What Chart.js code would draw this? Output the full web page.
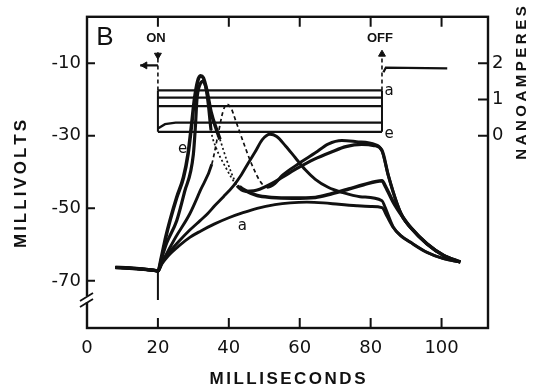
<!DOCTYPE html>
<html>
<head>
<meta charset="utf-8">
<script src="https://cdn.jsdelivr.net/npm/chart.js@4/dist/chart.umd.min.js"></script>
<style>
  html, body { margin: 0; padding: 0; background: #fff; }
  #wrap { width: 533px; height: 391px; }
</style>
</head>
<body>
<div id="wrap"><canvas id="chart"></canvas></div>
<script>
// ticks
const xTicks = [0, 20, 40, 60, 80, 100];
const mvTicks = [-10, -30, -50, -70];
const naTicks = [0, 1, 2];

// stimulus timing (ms)
const onTime = 20;
const offTime = 83.2;

// resting potential before the pulse, [ms, mV]
const baseline = [[8, -66.3], [12, -66.5], [16, -66.8], [19, -67.1], [20, -67.3]];

// voltage responses, [ms, mV]
const traceA = [[21, -65.5], [23, -63], [26, -60.3], [29, -58], [32, -56.3], [36, -54.3], [40, -52.6],
  [44, -51.2], [48, -50], [53, -49], [57.3, -48.5], [62, -48.3], [66.7, -48.5], [71, -48.9], [76.1, -49.3],
  [80, -49.5], [83.2, -49.8], [84.5, -52], [86.4, -55.3], [88.5, -57.6], [91.2, -59.4], [95.9, -62.2],
  [100.6, -63.9], [105.3, -64.8]];
const traceB = [[21, -65], [23, -62.3], [26, -59], [29, -56], [31.9, -53.4], [34, -51.5], [36, -49.3],
  [38.5, -46.8], [41.3, -43.8], [43.5, -40.8], [45.5, -37.5], [47.4, -34.5], [49.5, -31], [51.6, -29.6],
  [53.5, -30.2], [56, -32.8], [58.7, -36], [61.5, -39.3], [64.4, -42], [68, -44.2], [71.9, -45.6],
  [77, -46.8], [83.2, -47.9], [84, -49.5], [86.4, -55.2], [88.5, -57.5], [91.2, -59.3], [95.9, -62.1],
  [100.6, -63.9], [105.3, -64.8]];
const traceC = [[21.5, -64.3], [25, -58], [29, -51.5], [32, -45], [35.2, -37.8], [37, -29.5], [38.3, -23.5],
  [39.4, -21.3], [40.6, -22.3], [42, -26], [44, -31.5], [46.3, -37.5], [48.8, -42.5], [50.7, -44.2],
  [53, -43.2], [55, -41], [60, -37.5], [64.4, -34.7], [68, -32.3], [71.9, -31.3], [76, -31.6],
  [81.3, -32.4], [83.2, -34.2], [85, -41], [87.4, -48.6], [89, -52.3], [91.2, -55.2], [95.9, -59.8],
  [100.6, -63], [105.3, -64.8]];
const traceD = [[21, -64], [22.5, -59.5], [25.3, -53.4], [27.5, -45.5], [30, -35.1], [30.6, -27], [31, -20],
  [31.8, -16], [32.7, -15], [33.6, -17], [34.3, -22], [35, -28.5], [36.5, -33.5], [39, -38.5],
  [42.3, -43.8], [44.6, -45.3], [47, -45.2], [52, -43.2], [55, -41.5], [59.6, -38.8], [64, -36.5],
  [69.1, -34.4], [73, -33], [77.5, -32.4], [81, -32.7], [83.2, -34], [85, -41], [87.4, -48.6],
  [89, -52.3], [91.2, -55.2], [95.9, -59.8], [100.6, -63], [105.3, -64.8]];
const traceE = [[21, -63.5], [22.2, -58], [23.4, -53.4], [25.3, -47], [27.2, -41.5], [28.5, -35], [29.5, -27],
  [30.3, -20], [31.2, -15], [32, -13.5], [32.8, -14], [33.8, -17.5], [35, -23.5], [36.6, -28.5],
  [37.5, -31], [39.5, -37], [41.7, -42.4], [43, -44], [45, -45.3], [48, -46.5], [52, -47], [58, -47.2],
  [64.4, -47], [69, -46], [73.8, -44.7], [78, -43.5], [83.2, -42.4], [84.2, -44], [86.5, -48.5],
  [89, -52.3], [91.2, -55.2], [95.9, -59.8], [100.6, -63], [105.3, -64.8]];

// stimulus artifact at pulse onset, [ms, mV]
const artifact = [[20, -67], [20, -75.3]];

// injected current levels during the pulse (nA), a..e
const currentLevels = [1.25, 1.05, 0.82, 0.36, 0.11];
const currentDStart = [[20, 0.2], [22, 0.32], [25, 0.36]];
const preOnCurrent = [[15, 1.94], [20, 1.94]];
const postOffCurrent = [[83.6, 1.75], [84.3, 1.88], [101.6, 1.86]];
const markerTop = 2.3;

const ink = '#111';

function withBase(trace) {
  return baseline.concat(trace).map(p => ({ x: p[0], y: p[1] }));
}
function pts(arr) {
  return arr.map(p => ({ x: p[0], y: p[1] }));
}

function vTrace(trace, width, dash) {
  return {
    data: withBase(trace),
    yAxisID: 'y',
    borderColor: ink,
    borderWidth: width,
    cubicInterpolationMode: 'monotone',
    pointRadius: 0,
    segment: dash ? {
      borderDash: c => (c.p0.parsed.x >= dash[0] && c.p1.parsed.x <= dash[1]) ? dash[2] : undefined,
      borderWidth: c => (c.p0.parsed.x >= dash[0] && c.p1.parsed.x <= dash[1]) ? 1.7 : undefined
    } : undefined
  };
}

function iLine(data, width, dash) {
  return {
    data: data,
    yAxisID: 'y2',
    borderColor: ink,
    borderWidth: width,
    borderDash: dash || [],
    pointRadius: 0,
    tension: 0
  };
}

const datasets = [
  vTrace(traceA, 2.9),
  vTrace(traceB, 2.9),
  vTrace(traceC, 2.9, [35.2, 50.7, [4, 3]]),
  vTrace(traceD, 3.2, [35, 42.3, [2, 2.5]]),
  vTrace(traceE, 3.6, [37.5, 43, [2, 2.5]]),
  { data: pts(artifact), yAxisID: 'y', borderColor: ink, borderWidth: 2, pointRadius: 0, tension: 0 }
];

const maxLevel = Math.max(...currentLevels);
const minLevel = Math.min(...currentLevels);
currentLevels.forEach((lvl, i) => {
  const d = (i === 3) ? currentDStart.concat([[offTime, lvl]]) : [[onTime, lvl], [offTime, lvl]];
  datasets.push(iLine(pts(d), 2.3));
});
datasets.push(iLine(pts([[onTime, minLevel], [onTime, maxLevel]]), 2));
datasets.push(iLine(pts([[offTime, minLevel], [offTime, maxLevel]]), 2));
datasets.push(iLine(pts([[onTime, maxLevel], [onTime, markerTop]]), 1.6, [4, 3]));
datasets.push(iLine(pts([[offTime, maxLevel], [offTime, markerTop]]), 1.6, [4, 3]));
datasets.push(iLine(pts(preOnCurrent), 2.3));
datasets.push(iLine(pts(postOffCurrent), 2.3));
// arrow heads
datasets.push({
  data: pts([[onTime, markerTop - 0.08], [offTime, markerTop - 0.05], [16.3, preOnCurrent[0][1]]]),
  yAxisID: 'y2', showLine: false, pointStyle: 'triangle', pointRadius: 4,
  pointRotation: [180, 0, 270], backgroundColor: ink, borderColor: ink, borderWidth: 1
});

function spaced(ctx, text, cx, cy, gap) {
  const ws = [...text].map(ch => ctx.measureText(ch).width);
  const total = ws.reduce((a, b) => a + b, 0) + gap * (text.length - 1);
  let x = cx - total / 2;
  ctx.textAlign = 'left';
  [...text].forEach((ch, i) => {
    ctx.fillText(ch, x, cy);
    x += ws[i] + gap;
  });
}

const decor = {
  id: 'decor',
  afterDraw(chart) {
    const ctx = chart.ctx;
    const a = chart.chartArea;
    const sx = chart.scales.x, sy = chart.scales.y, s2 = chart.scales.y2;
    ctx.save();
    ctx.strokeStyle = ink;
    ctx.fillStyle = ink;
    ctx.lineWidth = 2.4;
    ctx.strokeRect(a.left, a.top, a.right - a.left, a.bottom - a.top);

    // inward ticks
    ctx.lineWidth = 2;
    ctx.beginPath();
    xTicks.slice(1).forEach(v => {
      const px = sx.getPixelForValue(v);
      ctx.moveTo(px, a.bottom); ctx.lineTo(px, a.bottom - 10);
      ctx.moveTo(px, a.top); ctx.lineTo(px, a.top + 10);
    });
    mvTicks.forEach(v => {
      const py = sy.getPixelForValue(v);
      ctx.moveTo(a.left, py); ctx.lineTo(a.left + 8, py);
    });
    naTicks.forEach(v => {
      const py = s2.getPixelForValue(v);
      ctx.moveTo(a.right, py); ctx.lineTo(a.right - 10, py);
    });
    ctx.stroke();

    // axis break
    ctx.fillStyle = '#fff';
    ctx.fillRect(a.left - 3, 296, 6, 6);
    ctx.strokeStyle = ink;
    ctx.lineWidth = 1.8;
    ctx.beginPath();
    ctx.moveTo(a.left - 7, 301); ctx.lineTo(a.left + 6, 293);
    ctx.moveTo(a.left - 7, 307); ctx.lineTo(a.left + 6, 299);
    ctx.stroke();

    // text
    ctx.fillStyle = ink;
    ctx.textBaseline = 'middle';
    ctx.textAlign = 'center';
    ctx.font = '26px "Liberation Sans", Arial, sans-serif';
    ctx.fillText('B', 105, 38);
    ctx.font = 'bold 13px "Liberation Sans", Arial, sans-serif';
    ctx.fillText('ON', sx.getPixelForValue(onTime) - 2, 38);
    ctx.fillText('OFF', sx.getPixelForValue(offTime) - 2, 38);
    ctx.font = '15px "DejaVu Sans", sans-serif';
    ctx.fillText('a', sx.getPixelForValue(85.2), s2.getPixelForValue(1.23));
    ctx.fillText('e', sx.getPixelForValue(85.2), s2.getPixelForValue(0.05));
    ctx.fillText('e', sx.getPixelForValue(27), sy.getPixelForValue(-33.6));
    ctx.fillText('a', sx.getPixelForValue(43.8), sy.getPixelForValue(-54.8));

    ctx.font = 'bold 17px "Liberation Sans", Arial, sans-serif';
    spaced(ctx, 'MILLISECONDS', (a.left + a.right) / 2, 379, 2.5);

    ctx.save();
    ctx.translate(21, 184);
    ctx.rotate(-Math.PI / 2);
    spaced(ctx, 'MILLIVOLTS', 0, 0, 3);
    ctx.restore();

    ctx.save();
    ctx.font = 'bold 15px "Liberation Sans", Arial, sans-serif';
    ctx.translate(522, 83);
    ctx.rotate(-Math.PI / 2);
    spaced(ctx, 'NANOAMPERES', 0, 0, 3.5);
    ctx.restore();
    ctx.restore();
  }
};

const tickFont = { family: '"DejaVu Sans", sans-serif', size: 18 };

new Chart(document.getElementById('chart'), {
  type: 'line',
  data: { datasets: datasets },
  options: {
    responsive: true,
    maintainAspectRatio: false,
    animation: false,
    layout: { padding: { top: 15, left: 0, right: 0, bottom: 0 } },
    plugins: { legend: { display: false }, tooltip: { enabled: false } },
    scales: {
      x: {
        type: 'linear', min: 0, max: 113.1,
        grid: { display: false, drawTicks: false }, border: { display: false },
        afterBuildTicks: s => { s.ticks = xTicks.map(v => ({ value: v })); },
        afterFit: s => { s.height = 63; },
        ticks: { font: tickFont, color: ink, padding: 10, maxRotation: 0, autoSkip: false }
      },
      y: {
        position: 'left', min: -83, max: 2.8,
        grid: { display: false, drawTicks: false }, border: { display: false },
        afterBuildTicks: s => { s.ticks = mvTicks.map(v => ({ value: v })); },
        afterFit: s => { s.width = 87; },
        ticks: { font: tickFont, color: ink, padding: 6 }
      },
      y2: {
        position: 'right', min: -5.3, max: 3.28,
        grid: { display: false, drawTicks: false }, border: { display: false },
        afterBuildTicks: s => { s.ticks = naTicks.map(v => ({ value: v })); },
        afterFit: s => { s.width = 45; },
        ticks: { font: tickFont, color: ink, padding: 4 }
      }
    }
  },
  plugins: [decor]
});
</script>
</body>
</html>
